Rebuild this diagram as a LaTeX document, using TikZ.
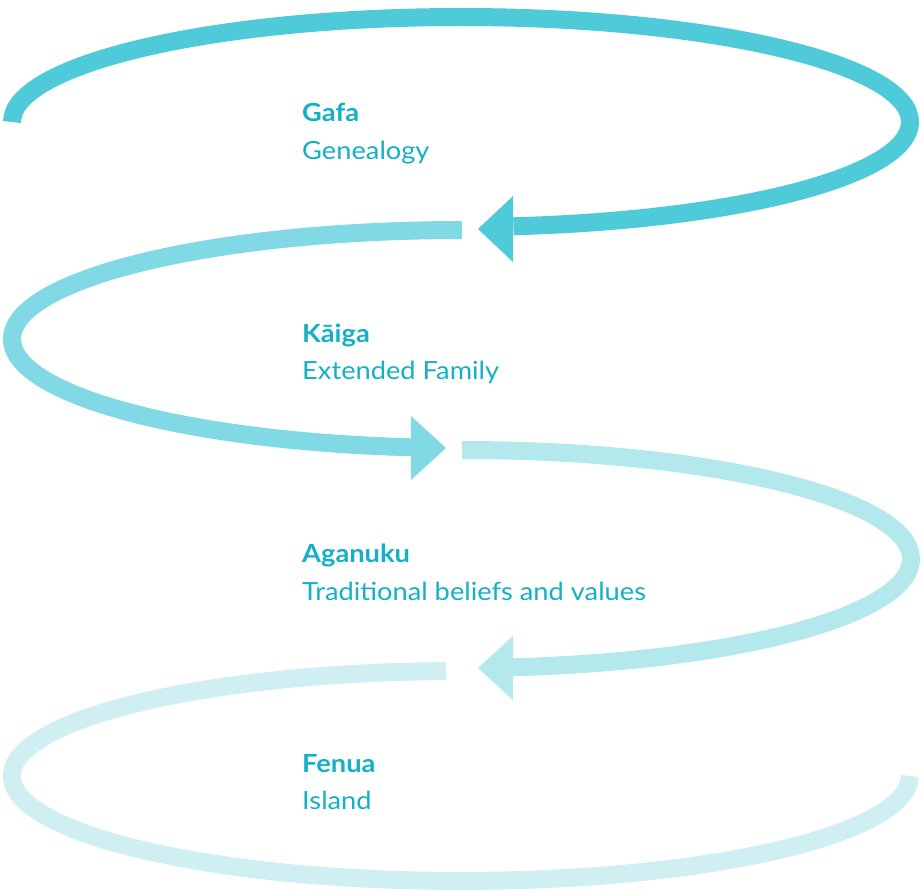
\documentclass[tikz,border=0pt]{standalone}
\usepackage{fontspec}
\setmainfont{Lato}[FakeStretch=1.09]
\definecolor{cA}{RGB}{78,202,216}
\definecolor{cB}{RGB}{128,217,228}
\definecolor{cC}{RGB}{179,232,237}
\definecolor{cD}{RGB}{207,239,243}
\definecolor{txt}{RGB}{20,176,198}
\tikzset{
  band/.style={line width=18pt, line cap=butt},
  lbl/.style={anchor=base west, inner sep=0pt, text=txt, font=\fontsize{25}{30}\selectfont},
  lblb/.style={lbl, font=\fontsize{25}{30}\selectfont\bfseries},
}
\begin{document}
\begin{tikzpicture}[x=1pt,y=1pt]
\useasboundingbox (0,0) rectangle (922,-893);
% curve 1
\draw[band, cA] (12,-122) arc[start angle=180, end angle=-83.3, x radius=449, y radius=105];
\fill[cA] (478,-229) coordinate (t1) -- (513,-196) -- (513,-262) -- cycle;
% curve 2
\draw[band, cB] (462,-230) arc[start angle=90, end angle=263.5, x radius=450, y radius=109];
\fill[cB] (446,-448) coordinate (t2) -- (411,-416) -- (411,-480) -- cycle;
% curve 3
\draw[band, cC] (462,-450) arc[start angle=90, end angle=-83.5, x radius=449, y radius=109];
\fill[cC] (478,-668) coordinate (t3) -- (513,-636) -- (513,-700) -- cycle;
% curve 4
\draw[band, cD] (446,-671) arc[start angle=91.9, end angle=360, x radius=449, y radius=105];
% labels
\node[lblb] (g1) at (302,-122) {Gafa};
\node[lbl] (g2) at (302,-160) {Genealogy};
\node[lblb] (k1) at (302,-343) {Kāiga};
\node[lbl] (k2) at (302,-380) {Extended Family};
\node[lblb] (a1) at (302,-562) {Aganuku};
\node[lbl] (a2) at (302,-600) {Traditional beliefs and values};
\node[lblb] (f1) at (302,-772) {Fenua};
\node[lbl] (f2) at (302,-809) {Island};
\end{tikzpicture}
\end{document}
